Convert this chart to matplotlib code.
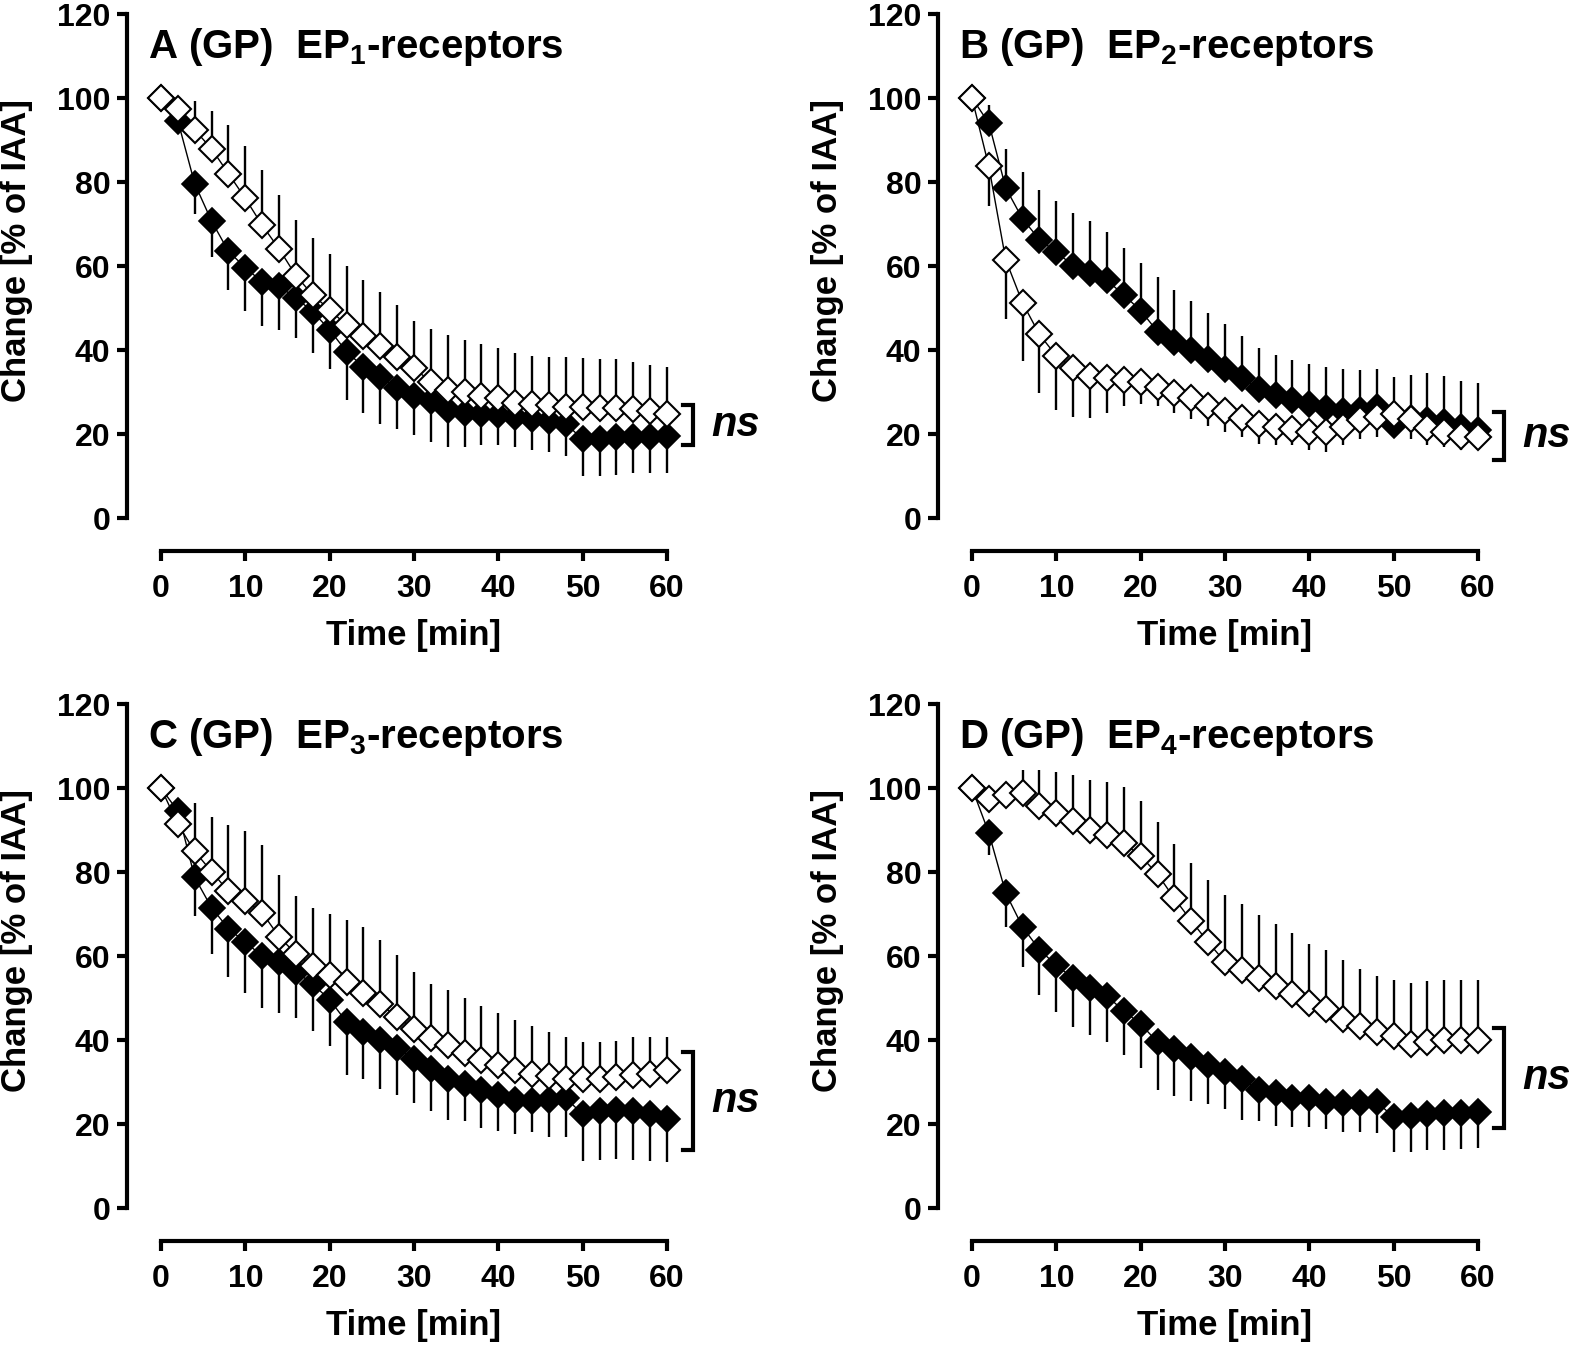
"""
EP-receptor time course panels (GP), 2x2
"""

import matplotlib
matplotlib.use("Agg")
import matplotlib.pyplot as plt

plt.rcParams["font.family"] = ["Liberation Sans", "DejaVu Sans"]
plt.rcParams["font.weight"] = "bold"
plt.rcParams["mathtext.fontset"] = "custom"
plt.rcParams["mathtext.rm"] = "Liberation Sans:bold"
plt.rcParams["mathtext.bf"] = "Liberation Sans:bold"
plt.rcParams["mathtext.it"] = "Liberation Sans:bold:italic"

TIME = [0, 2, 4, 6, 8, 10, 12, 14, 16, 18, 20, 22, 24, 26, 28, 30,
        32, 34, 36, 38, 40, 42, 44, 46, 48, 50, 52, 54, 56, 58, 60]

# panel A  EP1
A_OPEN = [100, 97.3, 92.4, 87.9, 82.0, 76.1, 69.7, 64.1, 57.7, 53.1, 49.6, 45.9, 43.3, 41.0, 38.4, 35.6,
          32.5, 30.4, 29.9, 29.0, 28.5, 27.5, 27.2, 26.9, 26.5, 26.5, 26.2, 26.2, 25.9, 25.5, 24.7]
A_OPEN_ERR = [0, 0, 6.8, 8.9, 11.6, 12.4, 13.1, 12.8, 13.3, 13.5, 13.3, 14.0, 13.4, 12.9, 12.4, 11.2,
              12.4, 13.2, 12.5, 12.4, 11.9, 11.9, 11.4, 11.5, 11.9, 11.7, 11.7, 11.7, 11.3, 11.0, 11.3]
A_FILL = [100, 94.6, 79.6, 70.7, 63.5, 59.6, 56.2, 55.2, 52.4, 49.1, 44.8, 39.6, 36.0, 33.5, 31.0, 29.0,
          27.8, 25.6, 25.1, 24.8, 24.6, 24.1, 23.6, 23.2, 22.5, 18.7, 18.9, 19.2, 19.2, 19.2, 19.5]
A_FILL_ERR = [0, 2, 7.2, 8.5, 9.3, 10.3, 10.4, 10.4, 9.5, 9.7, 9.3, 11.5, 10.9, 11.0, 9.8, 9.3,
              9.6, 8.6, 8.1, 7.5, 7.3, 7.3, 7.3, 7.4, 7.7, 8.8, 8.8, 8.9, 8.6, 8.4, 8.7]

# panel B  EP2
B_OPEN = [100, 83.7, 61.5, 51.2, 43.7, 38.6, 35.7, 33.9, 33.3, 32.9, 32.4, 31.2, 29.7, 28.5, 26.6, 25.4,
          23.7, 22.5, 21.7, 21.2, 20.4, 20.5, 21.7, 23.3, 24.1, 24.8, 23.5, 21.5, 20.4, 19.6, 19.2]
B_OPEN_ERR = [0, 9.3, 14.1, 13.8, 14.0, 12.8, 11.6, 10.1, 8.3, 6.3, 5.2, 4.6, 4.6, 5.0, 4.7, 5.0,
              4.5, 4.8, 4.4, 3.9, 4.3, 4.7, 4.4, 4.5, 4.9, 5.0, 4.7, 4.2, 3.5, 3.5, 3.1]
B_FILL = [100, 94.0, 78.6, 71.2, 66.3, 63.3, 60.1, 58.4, 56.6, 53.1, 49.4, 44.4, 41.9, 40.1, 37.8, 35.4,
          33.3, 30.8, 29.2, 28.0, 27.2, 26.3, 25.5, 25.7, 26.5, 22.2, 23.7, 23.3, 22.9, 21.7, 21.0]
B_FILL_ERR = [0, 4.4, 9.3, 11.1, 11.9, 12.2, 12.5, 12.3, 11.4, 11.2, 11.4, 12.9, 12.3, 11.5, 11.1, 10.8,
              10.0, 9.7, 9.5, 9.7, 9.5, 9.6, 9.9, 9.5, 8.9, 11.3, 10.3, 11.2, 10.8, 11.0, 11.2]

# panel C  EP3
C_OPEN = [100, 91.4, 84.9, 80.1, 75.4, 73.2, 70.3, 64.6, 60.5, 57.6, 55.5, 53.7, 51.2, 48.6, 45.4, 42.7,
          40.4, 38.7, 37.0, 35.2, 34.1, 32.8, 32.0, 31.4, 30.7, 30.6, 30.7, 31.3, 31.6, 32.0, 32.8]
C_OPEN_ERR = [0, 5, 11.6, 13.0, 15.9, 16.6, 16.2, 14.7, 13.7, 13.9, 14.4, 14.9, 15.6, 15.1, 14.8, 13.4,
              13.0, 13.1, 13.0, 13.0, 12.4, 11.9, 11.4, 10.6, 9.9, 9.0, 8.9, 8.5, 9.0, 8.6, 7.8]
C_FILL = [100, 94.5, 78.7, 71.5, 66.5, 63.3, 60.0, 58.6, 56.3, 53.3, 49.6, 44.3, 42.0, 40.1, 38.1, 35.5,
          33.0, 30.7, 29.5, 28.1, 26.8, 25.8, 25.5, 25.8, 26.2, 22.3, 23.0, 23.4, 23.0, 22.3, 21.1]
C_FILL_ERR = [0, 2, 9.2, 11.0, 11.4, 12.0, 12.3, 12.1, 11.0, 11.1, 11.1, 12.7, 11.3, 11.7, 11.3, 10.5,
              9.8, 9.8, 8.7, 9.1, 8.4, 8.2, 7.5, 9.0, 9.4, 11.0, 11.5, 11.8, 11.5, 11.0, 10.2]

# panel D  EP4
D_OPEN = [100, 97.3, 98.3, 98.7, 95.7, 94.1, 92.2, 90.0, 88.7, 86.9, 83.8, 79.5, 73.7, 68.4, 63.3, 58.6,
          56.6, 54.7, 52.9, 51.0, 48.7, 47.3, 45.1, 43.4, 41.8, 41.0, 39.1, 39.5, 40.0, 40.0, 40.0]
D_OPEN_ERR = [0, 0, 0, 5.6, 8.5, 9.8, 11.0, 11.9, 12.7, 13.3, 13.0, 12.5, 13.0, 13.8, 14.8, 16.0,
              15.8, 15.0, 14.7, 14.5, 14.2, 14.2, 13.9, 13.6, 13.4, 13.4, 14.5, 14.5, 14.3, 14.3, 14.3]
D_FILL = [100, 89.3, 75.0, 66.9, 61.5, 57.8, 54.7, 52.5, 50.5, 46.9, 43.8, 39.5, 37.9, 35.9, 34.1, 32.4,
          30.7, 28.1, 27.5, 26.3, 26.1, 25.2, 24.9, 24.9, 25.3, 21.6, 21.8, 22.3, 22.6, 22.6, 22.9]
D_FILL_ERR = [0, 5.3, 8.1, 9.6, 10.7, 11.2, 11.7, 11.3, 10.9, 10.5, 10.4, 11.5, 11.3, 10.4, 9.4, 8.9,
              9.8, 7.5, 7.9, 7.1, 6.9, 6.4, 6.9, 6.9, 7.5, 8.2, 8.4, 8.5, 8.7, 8.5, 8.5]

TITLES = [r"A (GP)  EP$_1$-receptors", r"B (GP)  EP$_2$-receptors",
          r"C (GP)  EP$_3$-receptors", r"D (GP)  EP$_4$-receptors"]
# (y low, y high) of the "ns" bracket
BRACKETS = [(17.4, 26.9), (13.8, 25.2), (13.8, 37.1), (19.0, 42.9)]

W, H = 1594, 1364
fig = plt.figure(figsize=(W / 100, H / 100), dpi=100)

PX_MIN = 8.433
PX_UNIT = 4.2
XMIN, XMAX = -4.03, 64.0


def make_axes(left_px, zero_px):
    width = (XMAX - XMIN) * PX_MIN
    height = 120 * PX_UNIT
    return fig.add_axes([left_px / W, (H - zero_px) / H, width / W, height / H])


def draw_panel(ax, title, open_y, open_err, fill_y, fill_err, open_up, bracket):
    zero = [0] * len(TIME)
    if open_up:
        open_yerr = [zero, open_err]
        fill_yerr = [fill_err, zero]
    else:
        open_yerr = [open_err, zero]
        fill_yerr = [zero, fill_err]

    ax.errorbar(TIME, fill_y, yerr=fill_yerr, fmt="D", color="black", ms=13,
                mfc="black", mec="black", mew=1.2, lw=1.2, elinewidth=1.7,
                capsize=0, zorder=3, clip_on=False)
    ax.errorbar(TIME, open_y, yerr=open_yerr, fmt="D", color="black", ms=13,
                mfc="white", mec="black", mew=1.5, lw=1.2, elinewidth=1.7,
                capsize=0, zorder=4, clip_on=False)
    ax.plot(TIME, fill_y, color="black", lw=1.0, zorder=2.5)
    ax.plot(TIME, open_y, color="black", lw=1.0, zorder=2.5)

    ax.set_xlim(XMIN, XMAX)
    ax.set_ylim(0, 120)
    ax.spines["top"].set_visible(False)
    ax.spines["right"].set_visible(False)
    ax.spines["left"].set_linewidth(3)
    ax.spines["bottom"].set_linewidth(3)
    ax.spines["bottom"].set_position(("outward", 24))
    ax.spines["bottom"].set_bounds(0, 60)
    ax.set_xticks([0, 10, 20, 30, 40, 50, 60])
    ax.set_yticks([0, 20, 40, 60, 80, 100, 120])
    ax.tick_params(axis="both", direction="out", length=7, width=3,
                   labelsize=23, pad=5)
    ax.tick_params(axis="x", pad=9)
    for lab in ax.get_xticklabels() + ax.get_yticklabels():
        lab.set_fontweight("bold")

    ax.set_xlabel("Time [min]", fontsize=25, fontweight="bold")
    ax.xaxis.set_label_coords((30 - XMIN) / (XMAX - XMIN), -0.2)
    ax.set_ylabel("Change [% of IAA]", fontsize=25, fontweight="bold")
    ax.yaxis.set_label_coords(-0.163, 0.53)

    ax.text(-1.5, 109.5, title, fontsize=29, fontweight="bold",
            ha="left", va="baseline")

    lo, hi = bracket
    bx = 63.1
    ax.plot([61.9, bx, bx, 61.9], [hi, hi, lo, lo], color="black", lw=3,
            clip_on=False, solid_joinstyle="miter")
    ax.text(65.2, (lo + hi) / 2, "ns", fontsize=30, fontweight="bold",
            fontstyle="italic", ha="left", va="center", clip_on=False)


ax_a = make_axes(127, 518)
ax_b = make_axes(938, 518)
ax_c = make_axes(127, 1208)
ax_d = make_axes(938, 1208)

draw_panel(ax_a, TITLES[0], A_OPEN, A_OPEN_ERR, A_FILL, A_FILL_ERR, True, BRACKETS[0])
draw_panel(ax_b, TITLES[1], B_OPEN, B_OPEN_ERR, B_FILL, B_FILL_ERR, False, BRACKETS[1])
draw_panel(ax_c, TITLES[2], C_OPEN, C_OPEN_ERR, C_FILL, C_FILL_ERR, True, BRACKETS[2])
draw_panel(ax_d, TITLES[3], D_OPEN, D_OPEN_ERR, D_FILL, D_FILL_ERR, True, BRACKETS[3])

fig.savefig("out.png", dpi=100)
plt.close(fig)
